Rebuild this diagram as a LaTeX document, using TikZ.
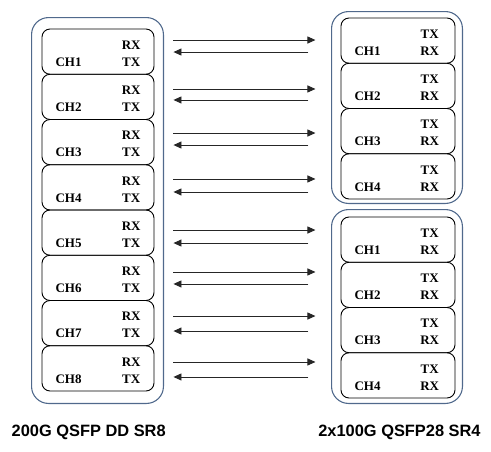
\documentclass[tikz,border=0pt]{standalone}
\usepackage{fontspec}
\setmainfont{Liberation Serif}
\newfontfamily\titlefont{Liberation Sans}
\usetikzlibrary{positioning,arrows.meta}
\definecolor{modblue}{RGB}{80,105,140}

\begin{document}
\begin{tikzpicture}[x=1pt,y=-1pt,
  chbox/.style={draw=black, line width=0.9pt, rounded corners=8pt, minimum height=45.25pt, inner sep=0pt},
  module/.style={draw=modblue, line width=1.1pt, rounded corners=17pt},
  lbl/.style={font=\fontsize{13}{13}\selectfont\bfseries, inner sep=0pt},
  link/.style={draw=black!85, line width=0.9pt, -{Triangle[length=8pt,width=7pt]}},
  title/.style={font=\titlefont\fontsize{16.4}{18}\selectfont\bfseries, inner sep=0pt}]
\useasboundingbox (0,0) rectangle (491,451);

% 200G QSFP DD side: eight lanes
\foreach \k in {1,...,8}
{
    \node[chbox, minimum width=112pt] (dd\k) at (98,{6.375+45.25*\k}) {};
    \node[lbl] at ([xshift=27pt,yshift=-10.6pt]dd\k.west) {CH\k};
    \node[lbl] at ([xshift=-23.3pt,yshift=6.5pt]dd\k.east) {RX};
    \node[lbl] at ([xshift=-23.3pt,yshift=-10.6pt]dd\k.east) {TX};
}
\draw[module] ([shift={(-10pt,11pt)}]dd1.north west) rectangle ([shift={(9pt,-12pt)}]dd8.south east);

% 2x100G QSFP28 side: two modules of four lanes
\foreach \k in {1,...,4}
{
    \node[chbox, minimum width=114pt] (qa\k) at (398,{-4.625+45.25*\k}) {};
    \node[chbox, minimum width=114pt] (qb\k) at (398,{194.375+45.25*\k}) {};
    \foreach \m in {qa,qb}
    {
        \node[lbl] at ([xshift=27pt,yshift=-10.6pt]\m\k.west) {CH\k};
        \node[lbl] at ([xshift=-25.7pt,yshift=6.5pt]\m\k.east) {TX};
        \node[lbl] at ([xshift=-25.7pt,yshift=-10.6pt]\m\k.east) {RX};
    }
}
\draw[module] ([shift={(-9pt,6pt)}]qa1.north west) rectangle ([shift={(7pt,-4pt)}]qa4.south east);
\draw[module] ([shift={(-9pt,7pt)}]qb1.north west) rectangle ([shift={(7pt,-5pt)}]qb4.south east);

% links between the lanes
\foreach \k/\up/\dn in {1/11.6/0.4, 2/7.9/3.1, 3/9.1/2.9, 4/8.4/4.6, 5/2.6/10.4, 6/5.9/6.1, 7/7.1/7.9, 8/6.4/8.6}
{
    \draw[link] ([xshift=19pt,yshift=\up pt]dd\k.east) -- ++(142,0);
    \draw[link] ([xshift=154pt,yshift=-\dn pt]dd\k.east) -- ++(-135,0);
}

\node[title] (ddname) at (88.7,432) {200G QSFP DD SR8};
\node[title] (qsfpname) at (399.5,432) {2x100G QSFP28 SR4};
\end{tikzpicture}
\end{document}
